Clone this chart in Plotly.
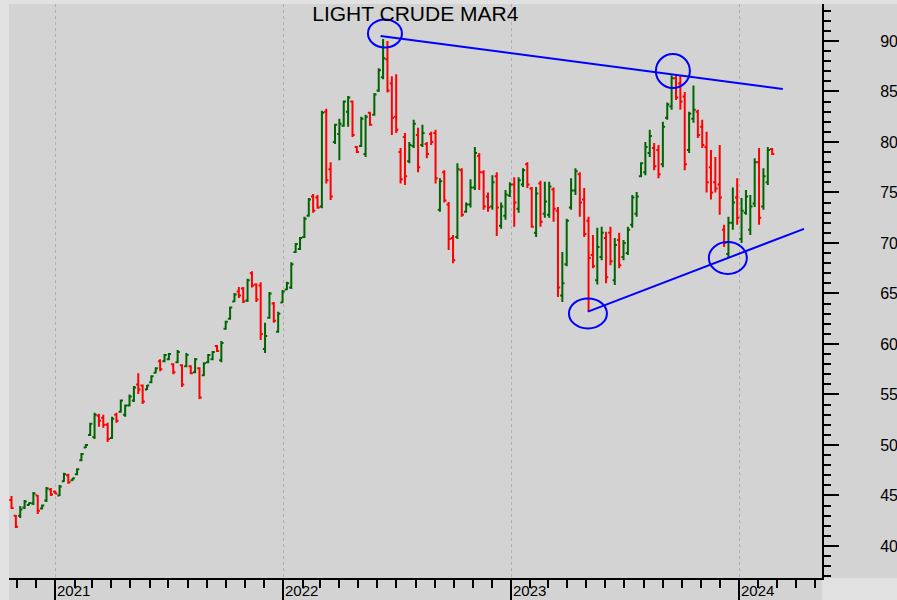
import pandas as pd
import plotly.graph_objects as go

# Weekly OHLC bars, Light Crude (March 2024 contract)
first_week = "2020-10-23"

open_ = [
    44.55, 43.0, 43.0, 43.8, 44.05, 44.2, 45.0, 43.7, 44.5, 45.6,
    45.4, 45.0, 46.4, 47.0, 46.5, 47.1, 48.5, 49.75, 51.0, 50.8,
    52.9, 52.7, 52.0, 50.7, 53.0, 53.3, 53.0, 53.9, 54.4, 56.0,
    55.9, 55.5, 56.2, 57.15, 58.3, 58.3, 58.5, 58.0, 58.2, 57.9,
    57.8, 57.8, 57.2, 57.6, 56.9, 58.2, 58.5, 59.8, 58.4, 61.5,
    62.5, 64.2, 65.2, 65.5, 64.3, 67.0, 65.9, 65.8, 59.5, 62.6,
    64.0, 61.2, 64.1, 65.4, 65.6, 69.1, 69.4, 70.6, 72.7, 74.6,
    74.5, 73.6, 83.0, 77.3, 80.0, 80.8, 81.6, 83.0, 84.0, 79.5,
    79.6, 78.8, 82.9, 82.7, 85.1, 86.4, 88.2, 85.8, 82.5, 79.0,
    80.5, 78.1, 79.6, 80.7, 79.7, 79.8, 80.8, 80.9, 73.3, 77.0,
    73.8, 70.5, 70.6, 77.2, 73.1, 73.8, 75.5, 78.6, 77.0, 74.6,
    73.6, 76.6, 71.7, 72.7, 74.7, 75.8, 73.4, 75.8, 77.8, 75.4,
    71.0, 75.9, 72.9, 72.8, 75.3, 73.2, 64.8, 67.9, 73.5, 75.2,
    76.8, 74.3, 72.2, 68.8, 66.3, 68.6, 70.5, 71.0, 66.3, 70.3,
    68.6, 69.0, 71.8, 72.9, 76.6, 77.0, 78.9, 79.4, 79.2, 77.8,
    82.4, 83.5, 86.3, 85.8, 84.5, 79.2, 82.3, 83.0, 81.5, 79.5,
    77.5, 76.0, 75.8, 71.3, 68.9, 72.0, 74.5, 70.4, 73.0, 71.3,
    73.9, 78.0, 73.6, 76.0, 79.3,
]
high = [
    44.95, 43.07, 43.96, 44.55, 44.3, 45.35, 45.05, 44.1, 45.85, 45.75,
    45.45, 46.05, 47.25, 47.15, 46.75, 47.7, 49.2, 50.1, 52.2, 53.2,
    53.1, 53.0, 52.2, 52.8, 53.2, 54.5, 54.0, 55.0, 55.85, 57.1,
    56.0, 55.95, 56.9, 57.7, 58.5, 59.0, 59.1, 58.1, 59.4, 58.0,
    59.1, 57.9, 58.6, 57.7, 58.2, 59.0, 59.3, 59.9, 60.3, 62.3,
    63.7, 65.05, 65.65, 65.65, 66.45, 67.2, 66.0, 66.1, 62.1, 65.15,
    64.15, 63.2, 65.35, 66.15, 68.1, 70.0, 70.6, 72.6, 74.45, 74.85,
    74.75, 83.1, 83.3, 78.0, 81.8, 82.3, 84.1, 84.55, 84.1, 79.6,
    82.5, 82.7, 83.0, 84.85, 87.3, 90.2, 90.0, 86.5, 86.7, 79.4,
    80.9, 80.0, 82.2, 81.4, 81.7, 80.0, 81.0, 81.2, 76.4, 77.2,
    74.05, 70.8, 77.9, 77.4, 74.0, 76.3, 79.5, 78.9, 77.2, 75.0,
    76.7, 77.0, 74.0, 75.25, 76.0, 76.5, 76.5, 77.4, 78.0, 75.55,
    75.55, 76.15, 76.05, 76.05, 75.5, 73.55, 69.1, 72.4, 76.4, 77.4,
    77.0, 75.45, 72.6, 70.8, 71.5, 71.6, 71.1, 71.6, 70.5, 71.0,
    70.3, 71.6, 74.75, 75.05, 78.0, 80.0, 81.2, 79.9, 79.7, 82.0,
    83.9, 86.6, 86.6, 86.6, 84.95, 83.0, 85.6, 83.2, 82.2, 81.0,
    79.2, 78.5, 79.7, 71.8, 72.6, 75.5, 76.4, 74.45, 75.25, 74.75,
    78.4, 79.4, 77.4, 79.5, 79.4,
]
low = [
    43.66, 41.78, 42.77, 43.66, 44.0, 44.06, 43.17, 43.6, 44.35, 44.95,
    45.15, 44.95, 46.35, 46.15, 46.45, 47.0, 48.4, 49.7, 50.9, 50.6,
    51.8, 51.7, 50.3, 50.6, 52.2, 53.2, 52.8, 53.8, 54.25, 55.05,
    54.05, 55.45, 56.1, 57.1, 57.3, 58.2, 58.4, 57.0, 58.1, 55.75,
    57.7, 57.0, 57.1, 54.55, 56.8, 58.1, 58.4, 59.2, 58.2, 61.4,
    62.4, 64.15, 64.55, 64.05, 64.15, 65.6, 64.15, 60.4, 59.1, 62.5,
    62.1, 61.1, 64.05, 65.35, 65.45, 69.0, 69.3, 70.5, 72.6, 73.0,
    73.4, 73.45, 75.9, 74.25, 79.8, 78.2, 81.5, 81.5, 80.5, 78.9,
    79.5, 78.5, 81.6, 82.6, 84.95, 86.2, 84.9, 80.7, 80.9, 75.9,
    75.75, 77.9, 79.4, 77.0, 79.5, 78.4, 79.7, 75.9, 73.1, 74.0,
    69.3, 68.0, 70.4, 72.6, 73.0, 73.5, 75.25, 75.25, 73.3, 73.1,
    73.3, 70.7, 71.4, 72.3, 74.55, 71.6, 73.0, 75.55, 75.45, 71.5,
    70.6, 71.6, 72.5, 72.5, 72.1, 64.65, 64.15, 67.7, 73.3, 74.75,
    72.6, 70.6, 63.2, 67.5, 65.9, 68.3, 66.0, 67.8, 65.85, 67.5,
    68.3, 68.8, 71.5, 72.6, 76.5, 76.7, 78.5, 77.2, 76.4, 77.5,
    82.2, 83.2, 84.15, 83.2, 77.2, 78.9, 81.9, 80.4, 79.4, 75.0,
    74.3, 75.0, 72.8, 69.6, 68.5, 71.3, 71.8, 70.0, 72.8, 70.8,
    73.55, 71.8, 73.3, 75.75, 78.7,
]
close = [
    43.75, 41.9, 43.6, 44.4, 44.25, 45.2, 43.5, 44.0, 45.7, 45.1,
    45.2, 45.9, 47.1, 46.3, 46.7, 47.6, 49.1, 50.0, 52.1, 53.0,
    52.4, 52.0, 50.6, 52.6, 52.4, 54.4, 53.9, 54.8, 55.7, 55.5,
    54.3, 55.9, 56.8, 57.6, 57.5, 58.9, 59.0, 57.2, 59.2, 56.0,
    58.9, 57.1, 58.5, 54.7, 58.1, 58.9, 59.2, 59.3, 60.1, 62.2,
    63.6, 64.9, 64.8, 64.2, 66.3, 65.8, 64.4, 61.0, 60.8, 65.0,
    62.3, 63.0, 65.2, 66.0, 67.9, 69.9, 70.5, 72.4, 74.3, 73.2,
    73.5, 82.9, 76.2, 74.6, 81.7, 81.8, 84.0, 84.4, 80.7, 79.0,
    82.3, 82.5, 81.7, 84.7, 87.1, 88.3, 85.1, 82.4, 81.2, 76.3,
    76.6, 79.7, 81.8, 77.5, 80.9, 78.8, 80.0, 76.4, 76.1, 74.2,
    70.4, 68.3, 77.3, 72.8, 73.8, 75.5, 78.9, 77.0, 73.6, 73.5,
    76.0, 73.5, 73.6, 74.8, 75.8, 74.0, 76.2, 77.2, 75.8, 71.6,
    74.9, 72.1, 74.1, 75.6, 73.4, 65.6, 66.0, 72.2, 75.2, 77.1,
    74.0, 70.9, 68.5, 67.7, 69.6, 71.0, 66.6, 68.2, 69.8, 67.8,
    70.0, 71.3, 74.5, 74.6, 77.9, 79.5, 80.6, 77.6, 76.8, 81.5,
    83.7, 86.3, 84.4, 84.0, 77.8, 82.8, 83.2, 80.7, 79.7, 76.0,
    75.0, 75.4, 74.5, 70.0, 72.0, 74.0, 72.5, 73.2, 74.6, 73.6,
    78.0, 72.5, 76.6, 79.2, 78.8,
]

# Axis ticks
price_ticks = [40, 45, 50, 55, 60, 65, 70, 75, 80, 85, 90]
year_ticks = ["2021-01-01", "2022-01-01", "2023-01-01", "2024-01-01"]
year_labels = ["2021", "2022", "2023", "2024"]

# Trend lines (resistance from the 2022 high, support from the 2023 low)
upper_trend_dates = ["2022-06-06", "2024-03-11"]
upper_trend_prices = [90.5, 85.25]
lower_trend_dates = ["2023-05-04", "2024-04-14"]
lower_trend_prices = [63.2, 71.4]

# Marked turning points
turn_dates = ["2022-06-13", "2023-09-17", "2023-05-04", "2023-12-14"]
turn_prices = [90.74, 87.03, 63.02, 68.51]

dates = pd.date_range(start=first_week, periods=len(close), freq="7D")

GRAY = "#d3d3d3"
EDGE = "#e1e1e1"
FONT = "Liberation Sans, Arial, sans-serif"

fig = go.Figure()

fig.add_trace(go.Ohlc(
    x=dates, open=open_, high=high, low=low, close=close,
    increasing=dict(line=dict(color="#006400", width=2)),
    decreasing=dict(line=dict(color="#ff0000", width=2)),
    tickwidth=0.5,
    showlegend=False,
    hoverinfo="skip",
))

for d, p in ((upper_trend_dates, upper_trend_prices),
             (lower_trend_dates, lower_trend_prices)):
    fig.add_trace(go.Scatter(
        x=d, y=p, mode="lines",
        line=dict(color="#0000ff", width=2),
        showlegend=False, hoverinfo="skip",
    ))

shapes = [
    # gray band under the time axis and behind the price labels
    dict(type="rect", xref="paper", yref="paper", x0=0, x1=1, y0=-0.2, y1=0,
         fillcolor=GRAY, line=dict(width=0), layer="below"),
    dict(type="rect", xref="paper", yref="paper", x0=1, x1=1.2, y0=0, y1=1,
         fillcolor=GRAY, line=dict(width=0), layer="below"),
]
rx = [17, 17, 19, 19]
ry = [14, 17, 15, 16]
for d, p, a, b in zip(turn_dates, turn_prices, rx, ry):
    shapes.append(dict(
        type="circle", xref="x", yref="y",
        xsizemode="pixel", ysizemode="pixel",
        xanchor=d, yanchor=p, x0=-a, x1=a, y0=-b, y1=b,
        line=dict(color="#0000ff", width=2),
    ))

# Year labels sit just right of each year tick, under the axis
year_annotations = [
    dict(x=d, xref="x", xanchor="left", xshift=1,
         y=0, yref="paper", yanchor="top", yshift=-3,
         text=t, showarrow=False, borderpad=0,
         font=dict(family=FONT, size=15, color="#000000"))
    for d, t in zip(year_ticks, year_labels)
]

fig.update_layout(
    width=897, height=600,
    margin=dict(l=9, r=75, t=4, b=22, autoexpand=False),
    paper_bgcolor=EDGE,
    plot_bgcolor=GRAY,
    font=dict(family=FONT, color="#000000"),
    title=dict(
        text="LIGHT CRUDE MAR4",
        font=dict(family=FONT, size=21, color="#000000"),
        x=0.463, xanchor="center", xref="container",
        y=0.978, yanchor="middle", yref="container",
    ),
    shapes=shapes,
    annotations=year_annotations,
    showlegend=False,
)

fig.update_xaxes(
    type="date",
    automargin=False,
    range=["2020-10-19", "2024-05-12 19:00"],
    rangeslider=dict(visible=False),
    tickmode="array", tickvals=year_ticks,
    showticklabels=False,
    ticks="outside", ticklen=24, tickwidth=2, tickcolor="#000000",
    showline=True, linecolor="#000000", linewidth=2,
    showgrid=True, gridcolor="#b0b0b0", griddash="dot", gridwidth=1,
    zeroline=False,
    minor=dict(dtick="M1", tick0="2021-01-01", ticks="outside",
               ticklen=8, tickwidth=2, tickcolor="#000000", showgrid=False),
)

fig.update_yaxes(
    side="right",
    automargin=False,
    range=[36.83, 93.66],
    tickmode="array", tickvals=price_ticks,
    ticks="outside", ticklen=15, tickwidth=2, tickcolor="#000000",
    tickfont=dict(size=16, color="#000000"),
    ticklabelstandoff=38,
    showline=True, linecolor="#000000", linewidth=2,
    showgrid=False, zeroline=False,
    minor=dict(dtick=1, ticks="outside", ticklen=7, tickwidth=2,
               tickcolor="#000000", showgrid=False),
)

fig.write_html("out.html")
